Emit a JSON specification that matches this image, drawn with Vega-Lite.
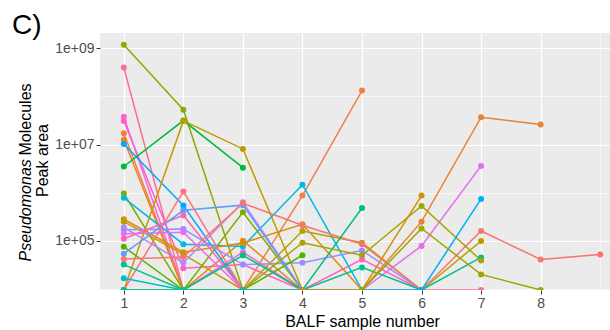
{
  "$schema": "https://vega.github.io/schema/vega-lite/v6.json",
  "width": 524,
  "height": 257,
  "autosize": {"type": "none"},
  "padding": {"left": 100, "top": 33, "right": 0, "bottom": 40},
  "background": "white",
  "title": {
    "text": "C)",
    "anchor": "start",
    "frame": "group",
    "orient": "top",
    "font": "Liberation Sans",
    "fontSize": 28,
    "fontWeight": "normal",
    "color": "black",
    "baseline": "alphabetic",
    "offset": 0,
    "dx": -88,
    "dy": 29
  },
  "config": {
    "font": "Liberation Sans",
    "view": {"fill": "#EBEBEB", "stroke": null}
  },
  "data": {
    "values": [
      {"id": "s01", "x": 1, "v": 1.19e9}, {"id": "s01", "x": 2, "v": 5.3e7}, {"id": "s01", "x": 3, "v": 1},
      {"id": "s02", "x": 1, "v": 4.0e8}, {"id": "s02", "x": 2, "v": 1}, {"id": "s02", "x": 3, "v": 1}, {"id": "s02", "x": 4, "v": 1}, {"id": "s02", "x": 5, "v": 1}, {"id": "s02", "x": 6, "v": 1}, {"id": "s02", "x": 7, "v": 1},
      {"id": "s03", "x": 1, "v": 3.8e7}, {"id": "s03", "x": 2, "v": 1}, {"id": "s03", "x": 3, "v": 5.8e4}, {"id": "s03", "x": 4, "v": 1},
      {"id": "s04", "x": 1, "v": 3.1e7}, {"id": "s04", "x": 2, "v": 2.7e4}, {"id": "s04", "x": 3, "v": 3.2e4}, {"id": "s04", "x": 4, "v": 1}, {"id": "s04", "x": 5, "v": 4.1e4}, {"id": "s04", "x": 6, "v": 1},
      {"id": "s05", "x": 1, "v": 1.72e7}, {"id": "s05", "x": 2, "v": 1}, {"id": "s05", "x": 3, "v": 1}, {"id": "s05", "x": 4, "v": 8.7e5}, {"id": "s05", "x": 5, "v": 1.32e8},
      {"id": "s06", "x": 1, "v": 1.26e7}, {"id": "s06", "x": 2, "v": 1}, {"id": "s06", "x": 3, "v": 1.0e5}, {"id": "s06", "x": 4, "v": 1},
      {"id": "s07", "x": 1, "v": 1.03e7}, {"id": "s07", "x": 2, "v": 5.4e5}, {"id": "s07", "x": 3, "v": 1},
      {"id": "s08", "x": 1, "v": 3.5e6}, {"id": "s08", "x": 2, "v": 3.15e7}, {"id": "s08", "x": 3, "v": 3.3e6},
      {"id": "s09", "x": 1, "v": 1}, {"id": "s09", "x": 2, "v": 3.1e7}, {"id": "s09", "x": 3, "v": 8.1e6}, {"id": "s09", "x": 4, "v": 1},
      {"id": "s10", "x": 1, "v": 9.6e5}, {"id": "s10", "x": 2, "v": 1}, {"id": "s10", "x": 3, "v": 3.9e5}, {"id": "s10", "x": 4, "v": 1},
      {"id": "s11", "x": 1, "v": 7.8e5}, {"id": "s11", "x": 2, "v": 8.5e4}, {"id": "s11", "x": 3, "v": 7.6e4}, {"id": "s11", "x": 4, "v": 1.46e6}, {"id": "s11", "x": 5, "v": 1},
      {"id": "s12", "x": 1, "v": 2.8e5}, {"id": "s12", "x": 2, "v": 5.8e4}, {"id": "s12", "x": 3, "v": 9.0e4}, {"id": "s12", "x": 4, "v": 2.2e5}, {"id": "s12", "x": 5, "v": 1},
      {"id": "s13", "x": 1, "v": 2.5e5}, {"id": "s13", "x": 2, "v": 5.2e4}, {"id": "s13", "x": 3, "v": 1}, {"id": "s13", "x": 4, "v": 1.6e5}, {"id": "s13", "x": 5, "v": 9.1e4}, {"id": "s13", "x": 6, "v": 1}, {"id": "s13", "x": 7, "v": 9.9e4},
      {"id": "s14", "x": 1, "v": 1.9e5}, {"id": "s14", "x": 2, "v": 3.5e4}, {"id": "s14", "x": 3, "v": 6.3e5}, {"id": "s14", "x": 4, "v": 1},
      {"id": "s15", "x": 1, "v": 1.7e5}, {"id": "s15", "x": 2, "v": 1.75e5}, {"id": "s15", "x": 3, "v": 3.2e4}, {"id": "s15", "x": 4, "v": 3.5e4}, {"id": "s15", "x": 5, "v": 6.3e4}, {"id": "s15", "x": 6, "v": 1},
      {"id": "s16", "x": 1, "v": 1.4e5}, {"id": "s16", "x": 2, "v": 1.5e5}, {"id": "s16", "x": 3, "v": 1}, {"id": "s16", "x": 4, "v": 1}, {"id": "s16", "x": 5, "v": 1}, {"id": "s16", "x": 6, "v": 7.8e4}, {"id": "s16", "x": 7, "v": 3.6e6},
      {"id": "s17", "x": 1, "v": 1.1e5}, {"id": "s17", "x": 2, "v": 3.4e5}, {"id": "s17", "x": 3, "v": 1},
      {"id": "s18", "x": 1, "v": 7.5e4}, {"id": "s18", "x": 2, "v": 1}, {"id": "s18", "x": 3, "v": 1}, {"id": "s18", "x": 4, "v": 5.0e4},
      {"id": "s19", "x": 1, "v": 5.4e4}, {"id": "s19", "x": 2, "v": 4.3e5}, {"id": "s19", "x": 3, "v": 5.5e5}, {"id": "s19", "x": 4, "v": 1},
      {"id": "s20", "x": 1, "v": 4.2e4}, {"id": "s20", "x": 2, "v": 4.6e4}, {"id": "s20", "x": 3, "v": 6.0e5}, {"id": "s20", "x": 4, "v": 2.1e5}, {"id": "s20", "x": 5, "v": 8.5e4}, {"id": "s20", "x": 6, "v": 1}, {"id": "s20", "x": 7, "v": 1.6e5}, {"id": "s20", "x": 8, "v": 4.1e4}, {"id": "s20", "x": 9, "v": 5.2e4},
      {"id": "s21", "x": 1, "v": 1}, {"id": "s21", "x": 2, "v": 1.06e6}, {"id": "s21", "x": 3, "v": 1},
      {"id": "s22", "x": 1, "v": 3.2e4}, {"id": "s22", "x": 2, "v": 1}, {"id": "s22", "x": 3, "v": 1}, {"id": "s22", "x": 4, "v": 1}, {"id": "s22", "x": 5, "v": 2.8e4}, {"id": "s22", "x": 6, "v": 1}, {"id": "s22", "x": 7, "v": 4.5e4},
      {"id": "s23", "x": 1, "v": 1.66e4}, {"id": "s23", "x": 2, "v": 1},
      {"id": "s24", "x": 1, "v": 1}, {"id": "s24", "x": 2, "v": 1}, {"id": "s24", "x": 3, "v": 5.0e4}, {"id": "s24", "x": 4, "v": 1}, {"id": "s24", "x": 5, "v": 4.8e5},
      {"id": "s25", "x": 1, "v": 1}, {"id": "s25", "x": 2, "v": 1}, {"id": "s25", "x": 3, "v": 1}, {"id": "s25", "x": 4, "v": 9.1e4}, {"id": "s25", "x": 5, "v": 5.0e4}, {"id": "s25", "x": 6, "v": 5.3e5}, {"id": "s25", "x": 7, "v": 3.9e4},
      {"id": "s26", "x": 4, "v": 1}, {"id": "s26", "x": 5, "v": 1}, {"id": "s26", "x": 6, "v": 2.5e5}, {"id": "s26", "x": 7, "v": 3.7e7}, {"id": "s26", "x": 8, "v": 2.6e7},
      {"id": "s27", "x": 4, "v": 1}, {"id": "s27", "x": 5, "v": 1}, {"id": "s27", "x": 6, "v": 1}, {"id": "s27", "x": 7, "v": 7.4e5},
      {"id": "s28", "x": 4, "v": 1}, {"id": "s28", "x": 5, "v": 1}, {"id": "s28", "x": 6, "v": 8.7e5},
      {"id": "s29", "x": 5, "v": 1}, {"id": "s29", "x": 6, "v": 1.8e5}, {"id": "s29", "x": 7, "v": 2.0e4}, {"id": "s29", "x": 8, "v": 1},
      {"id": "s30", "x": 1, "v": 1}, {"id": "s30", "x": 2, "v": 1}, {"id": "s30", "x": 3, "v": 1}
    ]
  },
  "resolve": {"axis": {"y": "independent"}},
  "layer": [
    {
      "mark": {"type": "line", "strokeWidth": 1.5, "clip": true},
      "encoding": {
        "x": {
          "field": "x",
          "type": "quantitative",
          "scale": {"domain": [0.6, 9.4], "nice": false, "zero": false},
          "axis": {
            "values": [1, 1.5, 2, 2.5, 3, 3.5, 4, 4.5, 5, 5.5, 6, 6.5, 7, 7.5, 8, 8.5, 9],
            "grid": true,
            "gridColor": "white",
            "gridWidth": {"condition": {"test": "datum.value % 1 == 0 && datum.value <= 8", "value": 1.2}, "value": 0.6},
            "domain": false,
            "tickColor": {"condition": {"test": "datum.value % 1 == 0 && datum.value <= 8", "value": "#333333"}, "value": "transparent"},
            "tickSize": 4,
            "tickWidth": 1,
            "labelExpr": "datum.value % 1 == 0 && datum.value <= 8 ? format(datum.value, 'd') : ''",
            "labelFontSize": 14,
            "labelColor": "#4D4D4D",
            "labelPadding": 2,
            "title": "BALF sample number",
            "titleFontSize": 16,
            "titleFontWeight": "normal",
            "titleColor": "black",
            "titlePadding": 3
          }
        },
        "y": {
          "field": "v",
          "type": "quantitative",
          "scale": {"type": "log", "domain": [9484, 2.08e9], "nice": false, "clamp": true},
          "axis": {
            "orient": "left",
            "values": [1e4, 1e5, 1e6, 1e7, 1e8, 1e9],
            "grid": true,
            "gridColor": "white",
            "gridWidth": {"condition": {"test": "datum.value == 1e5 || datum.value == 1e7 || datum.value == 1e9", "value": 1.2}, "value": 0.6},
            "domain": false,
            "tickColor": {"condition": {"test": "datum.value == 1e5 || datum.value == 1e7 || datum.value == 1e9", "value": "#333333"}, "value": "transparent"},
            "tickSize": 4,
            "tickWidth": 1,
            "labelExpr": "datum.value == 1e5 || datum.value == 1e7 || datum.value == 1e9 ? replace(format(datum.value, '.0e'), '+', '+0') : ''",
            "labelFontSize": 14,
            "labelColor": "#4D4D4D",
            "labelPadding": 2,
            "title": "Peak area",
            "titleFontSize": 16,
            "titleFontWeight": "normal",
            "titleColor": "black",
            "titleAngle": 270,
            "titleX": -58,
            "titleY": 127,
            "titleAlign": "center",
            "titleBaseline": "middle"
          }
        },
        "color": {
          "field": "id",
          "type": "nominal",
          "legend": null,
          "scale": {
            "domain": ["s01", "s02", "s03", "s04", "s05", "s06", "s07", "s08", "s09", "s10", "s11", "s12", "s13", "s14", "s15", "s16", "s17", "s18", "s19", "s20", "s21", "s22", "s23", "s24", "s25", "s26", "s27", "s28", "s29", "s30"],
            "range": ["#8FAA00", "#FF6C91", "#F564E3", "#FF61C3", "#F17E4F", "#E8861A", "#00A9FF", "#00BA38", "#C49A00", "#7CAE00", "#00B8E7", "#DE8C00", "#B79F00", "#B983FF", "#9590FF", "#E76BF3", "#FF64B0", "#53B400", "#619CFF", "#F8766D", "#FC717F", "#00C08B", "#00BFC4", "#00BF7D", "#A3A500", "#EA8331", "#00B0F6", "#D39200", "#9CA700", "#00C1AA"]
          }
        }
      }
    },
    {
      "transform": [{"filter": "datum.v > 1"}],
      "mark": {"type": "circle", "size": 36, "opacity": 1, "clip": true},
      "encoding": {
        "x": {"field": "x", "type": "quantitative"},
        "y": {
          "field": "v",
          "type": "quantitative",
          "axis": {
            "orient": "left",
            "grid": false,
            "ticks": false,
            "labels": false,
            "domain": false,
            "title": "Pseudomonas",
            "titleFontSize": 16,
            "titleFontStyle": "italic",
            "titleFontWeight": "normal",
            "titleColor": "black",
            "titleAngle": 270,
            "titleX": -75,
            "titleY": 228,
            "titleAlign": "left",
            "titleBaseline": "middle"
          }
        },
        "color": {"field": "id", "type": "nominal", "legend": null}
      }
    },
    {
      "transform": [{"filter": "datum.v <= 1"}],
      "mark": {"type": "circle", "size": 36, "opacity": 1, "clip": true},
      "encoding": {
        "x": {"field": "x", "type": "quantitative"},
        "y": {
          "field": "v",
          "type": "quantitative",
          "axis": {
            "orient": "left",
            "grid": false,
            "ticks": false,
            "labels": false,
            "domain": false,
            "title": "Molecules",
            "titleFontSize": 16,
            "titleFontWeight": "normal",
            "titleColor": "black",
            "titleAngle": 270,
            "titleX": -75,
            "titleY": 122,
            "titleAlign": "left",
            "titleBaseline": "middle"
          }
        },
        "color": {"field": "id", "type": "nominal", "legend": null}
      }
    }
  ]
}
